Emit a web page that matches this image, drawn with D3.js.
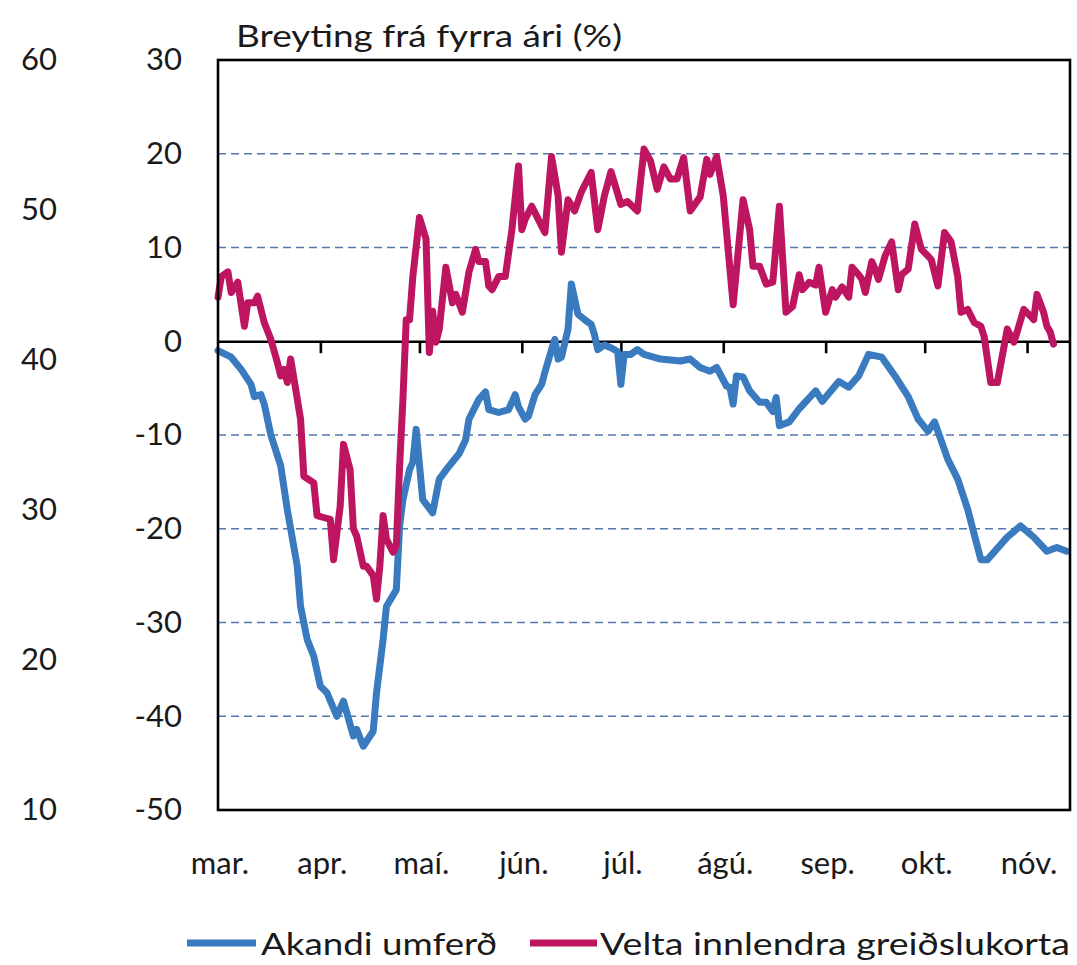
<!DOCTYPE html>
<html lang="is">
<head>
  <meta charset="utf-8">
  <script src="https://cdn.jsdelivr.net/npm/d3@7"></script>
  <style>
    body { margin: 0; background: #fff; }
    text { font-family: Lato, "Open Sans", sans-serif; fill: #1a1a1a; }
    .grid-line { stroke: #5378ad; stroke-width: 1.3; stroke-dasharray: 8 5; }
  </style>
</head>
<body>
  <script>
    // Akandi umferð (blue) - % change from previous year
    var akandi = [
      ["2020-03-01", -1.0], ["2020-03-05", -1.7], ["2020-03-08", -3.0], ["2020-03-11", -4.6],
      ["2020-03-12", -5.9], ["2020-03-14", -5.7], ["2020-03-15", -6.7], ["2020-03-17", -10.0],
      ["2020-03-20", -13.3], ["2020-03-22", -18.0], ["2020-03-25", -24.0], ["2020-03-26", -28.3],
      ["2020-03-28", -31.8], ["2020-03-30", -33.6], ["2020-04-01", -36.8], ["2020-04-03", -37.5],
      ["2020-04-06", -40.0], ["2020-04-08", -38.4], ["2020-04-11", -42.1], ["2020-04-12", -41.4],
      ["2020-04-14", -43.2], ["2020-04-17", -41.6], ["2020-04-18", -37.5], ["2020-04-20", -31.8],
      ["2020-04-21", -28.3], ["2020-04-24", -26.5], ["2020-04-25", -19.7], ["2020-04-26", -16.9],
      ["2020-04-28", -13.7], ["2020-04-29", -12.9], ["2020-04-30", -9.4], ["2020-05-02", -16.9],
      ["2020-05-05", -18.3], ["2020-05-07", -14.7], ["2020-05-10", -13.3], ["2020-05-13", -12.0],
      ["2020-05-15", -10.5], ["2020-05-16", -8.3], ["2020-05-19", -6.2], ["2020-05-21", -5.4],
      ["2020-05-22", -7.3], ["2020-05-25", -7.6], ["2020-05-28", -7.3], ["2020-05-30", -5.7],
      ["2020-05-31", -7.0], ["2020-06-02", -8.3], ["2020-06-03", -8.0], ["2020-06-05", -5.7],
      ["2020-06-07", -4.6], ["2020-06-08", -3.3], ["2020-06-10", -0.9], ["2020-06-11", 0.2],
      ["2020-06-12", -1.9], ["2020-06-13", -1.7], ["2020-06-15", 1.3], ["2020-06-16", 6.1],
      ["2020-06-18", 2.9], ["2020-06-20", 2.3], ["2020-06-22", 1.8], ["2020-06-23", 0.7],
      ["2020-06-24", -0.9], ["2020-06-26", -0.4], ["2020-06-28", -0.7], ["2020-06-30", -1.1],
      ["2020-07-01", -4.6], ["2020-07-02", -1.4], ["2020-07-04", -1.4], ["2020-07-06", -0.9],
      ["2020-07-08", -1.4], ["2020-07-13", -1.9], ["2020-07-19", -2.1], ["2020-07-22", -1.9],
      ["2020-07-25", -2.8], ["2020-07-28", -3.2], ["2020-07-30", -2.8], ["2020-08-02", -4.8],
      ["2020-08-03", -4.9], ["2020-08-04", -6.7], ["2020-08-05", -3.7], ["2020-08-07", -3.8],
      ["2020-08-09", -5.3], ["2020-08-12", -6.5], ["2020-08-14", -6.5], ["2020-08-16", -7.5],
      ["2020-08-17", -6.0], ["2020-08-18", -9.0], ["2020-08-21", -8.6], ["2020-08-24", -7.2],
      ["2020-08-29", -5.3], ["2020-08-31", -6.4], ["2020-09-05", -4.3], ["2020-09-08", -4.9],
      ["2020-09-11", -3.7], ["2020-09-14", -1.4], ["2020-09-18", -1.7], ["2020-09-22", -3.7],
      ["2020-09-26", -5.9], ["2020-09-29", -8.3], ["2020-10-02", -9.6], ["2020-10-04", -8.6],
      ["2020-10-08", -12.6], ["2020-10-11", -14.7], ["2020-10-14", -17.9], ["2020-10-18", -23.3],
      ["2020-10-20", -23.3], ["2020-10-22", -22.5], ["2020-10-26", -20.9], ["2020-10-30", -19.7],
      ["2020-11-03", -20.9], ["2020-11-07", -22.4], ["2020-11-10", -22.0], ["2020-11-13", -22.4]
    ];

    // Velta innlendra greiðslukorta (magenta)
    var velta = [
      ["2020-03-01", 4.7], ["2020-03-02", 6.9], ["2020-03-04", 7.4], ["2020-03-05", 5.2],
      ["2020-03-07", 6.3], ["2020-03-09", 1.6], ["2020-03-10", 4.1], ["2020-03-12", 4.1],
      ["2020-03-13", 4.8], ["2020-03-15", 2.0], ["2020-03-17", 0.2], ["2020-03-19", -2.3],
      ["2020-03-20", -3.7], ["2020-03-21", -3.0], ["2020-03-22", -4.4], ["2020-03-23", -1.9],
      ["2020-03-24", -4.0], ["2020-03-26", -8.3], ["2020-03-27", -14.4], ["2020-03-30", -15.1],
      ["2020-03-31", -18.6], ["2020-04-02", -18.8], ["2020-04-04", -19.0], ["2020-04-05", -23.3],
      ["2020-04-07", -17.6], ["2020-04-08", -11.0], ["2020-04-10", -13.7], ["2020-04-11", -20.0],
      ["2020-04-12", -20.8], ["2020-04-14", -24.0], ["2020-04-15", -24.0], ["2020-04-17", -25.0],
      ["2020-04-18", -27.5], ["2020-04-19", -24.0], ["2020-04-20", -18.6], ["2020-04-21", -21.1],
      ["2020-04-23", -22.5], ["2020-04-24", -21.8], ["2020-04-25", -13.3], ["2020-04-26", -6.2],
      ["2020-04-27", 2.3], ["2020-04-28", 2.3], ["2020-04-29", 6.9], ["2020-05-01", 13.2],
      ["2020-05-03", 10.9], ["2020-05-04", -1.2], ["2020-05-05", 3.2], ["2020-05-06", -0.1],
      ["2020-05-07", 1.3], ["2020-05-09", 7.9], ["2020-05-11", 4.1], ["2020-05-12", 5.0],
      ["2020-05-14", 3.1], ["2020-05-16", 7.4], ["2020-05-18", 9.8], ["2020-05-19", 8.5],
      ["2020-05-21", 8.5], ["2020-05-22", 5.9], ["2020-05-23", 5.5], ["2020-05-25", 6.9],
      ["2020-05-27", 6.9], ["2020-05-29", 11.9], ["2020-05-31", 18.7], ["2020-06-01", 11.9],
      ["2020-06-02", 13.0], ["2020-06-04", 14.4], ["2020-06-06", 13.0], ["2020-06-08", 11.6],
      ["2020-06-10", 19.7], ["2020-06-12", 15.5], ["2020-06-13", 9.5], ["2020-06-15", 15.1],
      ["2020-06-17", 13.9], ["2020-06-19", 15.9], ["2020-06-22", 18.0], ["2020-06-24", 11.9],
      ["2020-06-26", 15.5], ["2020-06-28", 18.1], ["2020-07-01", 14.6], ["2020-07-03", 14.9],
      ["2020-07-06", 13.9], ["2020-07-08", 20.5], ["2020-07-10", 19.2], ["2020-07-12", 16.2],
      ["2020-07-14", 18.6], ["2020-07-16", 17.3], ["2020-07-18", 17.3], ["2020-07-20", 19.6],
      ["2020-07-22", 13.9], ["2020-07-25", 15.4], ["2020-07-27", 19.4], ["2020-07-28", 17.8],
      ["2020-07-30", 19.7], ["2020-08-01", 15.5], ["2020-08-04", 3.9], ["2020-08-07", 15.1],
      ["2020-08-09", 11.9], ["2020-08-10", 8.0], ["2020-08-12", 8.0], ["2020-08-14", 6.1],
      ["2020-08-16", 6.3], ["2020-08-18", 14.4], ["2020-08-20", 3.1], ["2020-08-22", 3.7],
      ["2020-08-24", 7.1], ["2020-08-25", 5.5], ["2020-08-27", 6.3], ["2020-08-29", 6.0],
      ["2020-08-30", 7.9], ["2020-09-01", 3.1], ["2020-09-03", 5.5], ["2020-09-04", 4.7],
      ["2020-09-06", 5.8], ["2020-09-08", 4.7], ["2020-09-09", 7.9], ["2020-09-11", 7.1],
      ["2020-09-12", 6.6], ["2020-09-13", 5.2], ["2020-09-15", 8.5], ["2020-09-16", 7.7],
      ["2020-09-17", 6.6], ["2020-09-19", 9.1], ["2020-09-21", 10.6], ["2020-09-23", 5.5],
      ["2020-09-24", 7.1], ["2020-09-26", 7.7], ["2020-09-28", 12.5], ["2020-09-30", 9.8],
      ["2020-10-02", 9.1], ["2020-10-03", 8.7], ["2020-10-05", 5.9], ["2020-10-07", 11.6],
      ["2020-10-09", 10.6], ["2020-10-11", 6.9], ["2020-10-12", 3.1], ["2020-10-14", 3.4],
      ["2020-10-16", 2.0], ["2020-10-18", 1.6], ["2020-10-19", 0.5], ["2020-10-21", -4.4],
      ["2020-10-23", -4.4], ["2020-10-26", 1.3], ["2020-10-28", -0.1], ["2020-10-29", 1.0],
      ["2020-10-31", 3.4], ["2020-11-02", 2.7], ["2020-11-03", 2.3], ["2020-11-04", 5.0],
      ["2020-11-06", 3.1], ["2020-11-07", 1.6], ["2020-11-08", 1.0], ["2020-11-09", -0.3]
    ];

    var monthLabels = ["mar.", "apr.", "maí.", "jún.", "júl.", "ágú.", "sep.", "okt.", "nóv."];
    var leftTicks = [60, 50, 40, 30, 20, 10];
    var rightTicks = [30, 20, 10, 0, -10, -20, -30, -40, -50];
    var gridValues = [20, 10, -10, -20, -30, -40];
    var seriesNames = ["Akandi umferð", "Velta innlendra greiðslukorta"];
    var colors = ["#3a7bc0", "#be1560"];

    var width = 1077, height = 965;
    var plot = {left: 218, right: 1070, top: 60, bottom: 810};

    var parseDate = d3.timeParse("%Y-%m-%d");

    var svg = d3.select("body").append("svg")
      .attr("width", width)
      .attr("height", height);

    var x = d3.scaleTime()
      .domain([parseDate("2020-03-01"), parseDate("2020-11-14")])
      .range([plot.left, plot.right]);

    var y = d3.scaleLinear()
      .domain([-50, 30])
      .range([plot.bottom, plot.top]);

    var yLeft = d3.scaleLinear()
      .domain([10, 60])
      .range([plot.bottom, plot.top]);

    // grid lines
    svg.append("g")
      .selectAll("line")
      .data(gridValues)
      .enter().append("line")
        .attr("class", "grid-line")
        .attr("x1", plot.left)
        .attr("x2", plot.right)
        .attr("y1", d => y(d))
        .attr("y2", d => y(d));

    // plain hyphen for negatives, like the original
    var plainFormat = d => String(d);

    // outer left axis (labels only)
    var leftAxis = svg.append("g")
      .attr("transform", "translate(57,0)")
      .call(d3.axisLeft(yLeft).tickValues(leftTicks).tickSize(0).tickPadding(0).tickFormat(plainFormat));
    leftAxis.select(".domain").remove();

    var rightAxis = svg.append("g")
      .attr("transform", "translate(182,0)")
      .call(d3.axisLeft(y).tickValues(rightTicks).tickSize(0).tickPadding(0).tickFormat(plainFormat));
    rightAxis.select(".domain").remove();

    svg.selectAll(".tick text")
      .style("font-family", "Lato, sans-serif")
      .style("font-size", "31px")
      .attr("fill", "#1a1a1a");

    // zero line with month ticks
    var monthStarts = d3.timeMonth.range(parseDate("2020-03-01"), parseDate("2020-11-02"));

    var zeroAxis = svg.append("g")
      .attr("transform", "translate(0," + y(0) + ")")
      .call(d3.axisBottom(x)
        .tickValues(monthStarts.slice(1))
        .tickSize(12)
        .tickSizeOuter(0)
        .tickFormat(""));
    zeroAxis.select(".domain").attr("stroke", "#000").attr("stroke-width", 2.6);
    zeroAxis.selectAll(".tick line").attr("stroke", "#000").attr("stroke-width", 2.6);

    // month labels
    svg.append("g")
      .selectAll("text")
      .data(monthStarts)
      .enter().append("text")
        .attr("x", d => x(d) + 2)
        .attr("y", 874)
        .attr("text-anchor", "middle")
        .style("font-size", "31px")
        .text((d, i) => monthLabels[i]);

    // series lines
    var line = d3.line()
      .x(d => x(parseDate(d[0])))
      .y(d => y(d[1]));

    [akandi, velta].forEach(function(data, i) {
      svg.append("path")
        .datum(data)
        .attr("fill", "none")
        .attr("stroke", colors[i])
        .attr("stroke-width", 7)
        .attr("stroke-linejoin", "round")
        .attr("stroke-linecap", "round")
        .attr("d", line);
    });

    // plot border
    svg.append("rect")
      .attr("x", plot.left)
      .attr("y", plot.top)
      .attr("width", plot.right - plot.left)
      .attr("height", plot.bottom - plot.top)
      .attr("fill", "none")
      .attr("stroke", "#000")
      .attr("stroke-width", 2.6);

    // title
    svg.append("text")
      .attr("x", 236)
      .attr("y", 47)
      .attr("textLength", 386)
      .attr("lengthAdjust", "spacingAndGlyphs")
      .style("font-size", "31px")
      .text("Breyting frá fyrra ári (%)");

    // legend
    var legendItems = [
      {x1: 187, x2: 256, tx: 261, tw: 236},
      {x1: 530, x2: 597, tx: 600, tw: 470}
    ];

    var legend = svg.append("g")
      .selectAll("g")
      .data(legendItems)
      .enter().append("g");

    legend.append("line")
      .attr("x1", d => d.x1)
      .attr("x2", d => d.x2)
      .attr("y1", 943)
      .attr("y2", 943)
      .attr("stroke", (d, i) => colors[i])
      .attr("stroke-width", 7);

    legend.append("text")
      .attr("x", d => d.tx)
      .attr("y", 955)
      .attr("textLength", d => d.tw)
      .attr("lengthAdjust", "spacingAndGlyphs")
      .style("font-size", "31px")
      .text((d, i) => seriesNames[i]);
  </script>
</body>
</html>
